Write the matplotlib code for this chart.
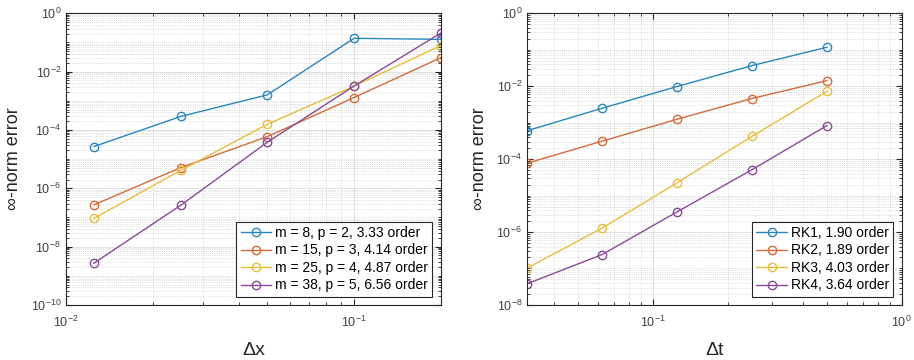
import numpy as np
import matplotlib
matplotlib.use("Agg")
import matplotlib.pyplot as plt
from matplotlib.ticker import LogLocator, LogFormatterSciNotation, NullFormatter

plt.rcParams['font.family'] = ['Liberation Sans', 'DejaVu Sans']
plt.rcParams['mathtext.fontset'] = 'custom'
plt.rcParams['mathtext.rm'] = 'Liberation Sans'

# Left panel: spatial convergence
dx = [0.0125, 0.025, 0.05, 0.1, 0.2]
err_m8 = [2.7e-5, 2.9e-4, 1.6e-3, 0.139, 0.128]
err_m15 = [2.7e-7, 5.1e-6, 5.9e-5, 1.29e-3, 0.030]
err_m25 = [9.3e-8, 4.1e-6, 1.56e-4, 3.2e-3, 0.078]
err_m38 = [2.7e-9, 2.6e-7, 3.8e-5, 3.2e-3, 0.21]
left_labels = ["m = 8, p = 2, 3.33 order", "m = 15, p = 3, 4.14 order",
               "m = 25, p = 4, 4.87 order", "m = 38, p = 5, 6.56 order"]

# Right panel: temporal convergence
dt = [0.03125, 0.0625, 0.125, 0.25, 0.5]
err_rk1 = [6.0e-4, 2.48e-3, 9.8e-3, 0.0367, 0.117]
err_rk2 = [7.7e-5, 3.1e-4, 1.24e-3, 4.6e-3, 0.0142]
err_rk3 = [1.02e-7, 1.27e-6, 2.23e-5, 4.2e-4, 7.2e-3]
err_rk4 = [3.8e-8, 2.4e-7, 3.55e-6, 5.1e-5, 8.3e-4]
right_labels = ["RK1, 1.90 order", "RK2, 1.89 order", "RK3, 4.03 order", "RK4, 3.64 order"]

colors = ['#2a86c0', '#d56a3a', '#e8bd3e', '#8a4a98']

fig = plt.figure(figsize=(9.14, 3.6), dpi=100)
axL = fig.add_axes([0.0722, 0.153, 0.410, 0.810])
axR = fig.add_axes([0.5766, 0.153, 0.410, 0.810])


def style(ax, xlim, ylim, ymajor, xlabel):
    ax.set_xscale('log')
    ax.set_yscale('log')
    ax.set_xlim(*xlim)
    ax.set_ylim(*ylim)
    ax.yaxis.set_major_locator(plt.FixedLocator(ymajor))
    ax.yaxis.set_major_formatter(LogFormatterSciNotation())
    ax.yaxis.set_minor_locator(LogLocator(base=10, subs=np.arange(1, 10), numticks=100))
    ax.yaxis.set_minor_formatter(NullFormatter())
    ax.xaxis.set_major_locator(LogLocator(base=10, numticks=100))
    ax.xaxis.set_minor_locator(LogLocator(base=10, subs=np.arange(2, 10), numticks=100))
    ax.xaxis.set_minor_formatter(NullFormatter())
    ax.grid(True, which='major', color='#262626', alpha=0.15, linewidth=0.6)
    ax.grid(True, which='minor', color='#262626', alpha=0.25, linewidth=0.5, linestyle=':')
    ax.tick_params(which='both', direction='in', top=True, right=True, colors='#262626',
                   labelcolor='#404040', labelsize=9)
    ax.tick_params(axis='x', which='major', pad=7)
    ax.tick_params(which='major', length=4)
    ax.tick_params(which='minor', length=2)
    for s in ax.spines.values():
        s.set_color('#262626')
        s.set_linewidth(0.8)
    ax.set_axisbelow(True)
    ax.set_xlabel(xlabel, fontsize=14, color='#262626', labelpad=9)
    ax.set_ylabel('∞-norm error', fontsize=13, color='#262626', labelpad=6)


for ys, c, lab in zip([err_m8, err_m15, err_m25, err_m38], colors, left_labels):
    axL.plot(dx, ys, '-o', color=c, mfc='none', mec=c, ms=6, lw=1.0, label=lab)
style(axL, (0.01, 0.2), (1e-10, 1), [10.0 ** k for k in range(-10, 1, 2)], 'Δx')

for ys, c, lab in zip([err_rk1, err_rk2, err_rk3, err_rk4], colors, right_labels):
    axR.plot(dt, ys, '-o', color=c, mfc='none', mec=c, ms=6, lw=1.0, label=lab)
style(axR, (0.03125, 1), (1e-8, 1), [10.0 ** k for k in range(-8, 1, 2)], 'Δt')

for ax in (axL, axR):
    leg = ax.legend(loc='lower right', fontsize=10, frameon=True, fancybox=False,
                    edgecolor='#262626', framealpha=1, borderpad=0.3, labelspacing=0.25,
                    handlelength=2.2, handletextpad=0.3, borderaxespad=0.6)
    leg.get_frame().set_linewidth(0.8)

fig.savefig('out.png', dpi=100)
